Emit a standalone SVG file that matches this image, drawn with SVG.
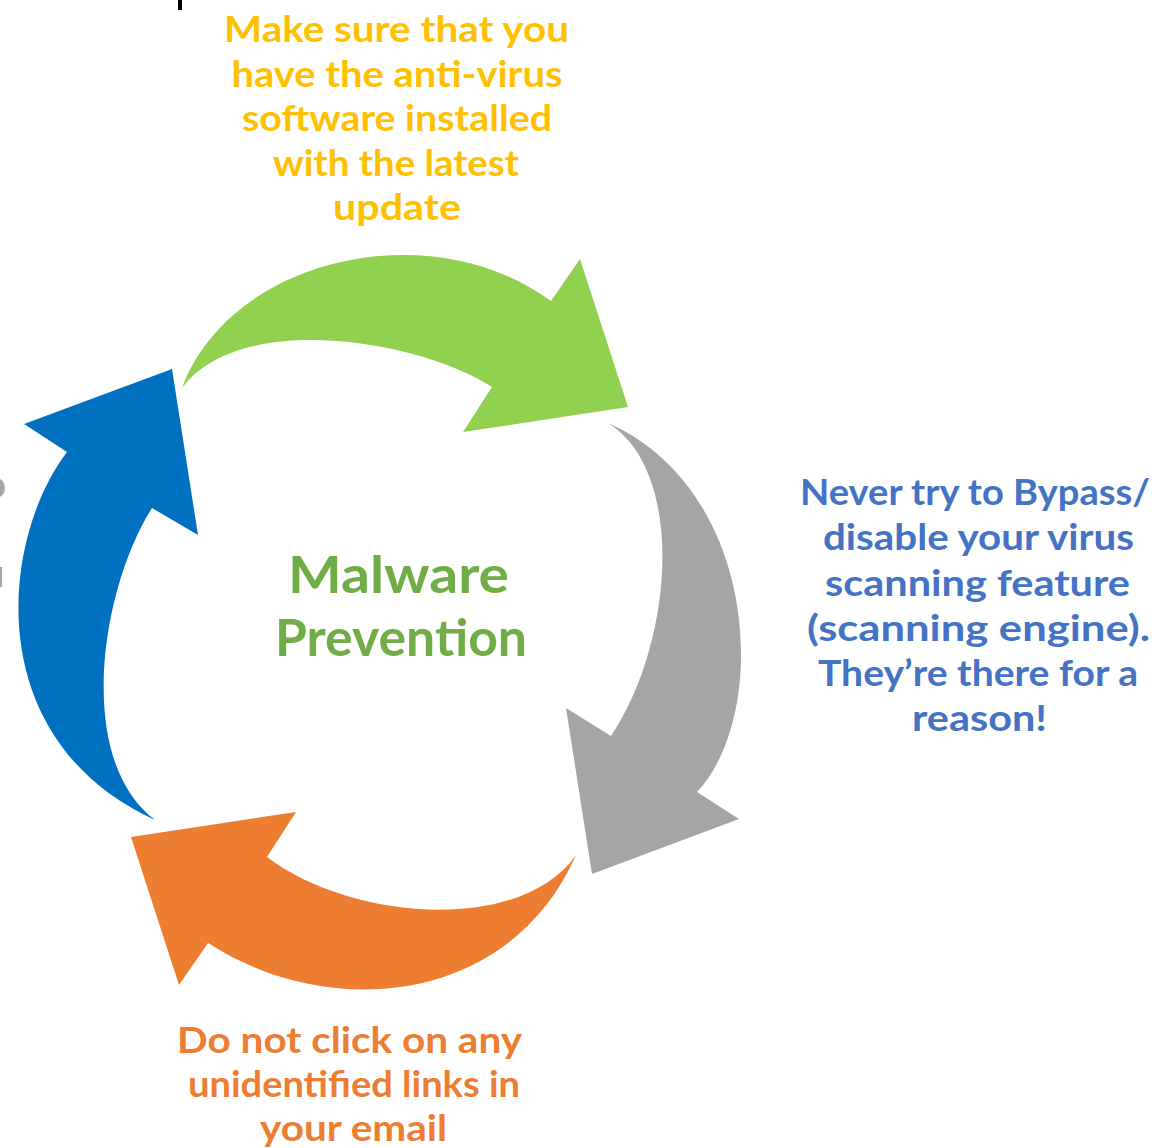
<svg xmlns="http://www.w3.org/2000/svg" width="1163" height="1148" viewBox="0 0 1163 1148">
  <style>
    .lbl { font-family: Lato, "Liberation Sans", sans-serif; font-weight: bold; font-size: 37px; text-anchor: middle; }
    .title { font-family: Lato, "Liberation Sans", sans-serif; font-weight: bold; font-size: 51px; text-anchor: middle; fill: #70AD47; }
    .yellow { fill: #FFC000; }
    .blue { fill: #4472C4; }
    .orange { fill: #ED7D31; }
  </style>
  <rect width="1163" height="1148" fill="#FFFFFF"/>

  <!-- cropped fragments at the edges -->
  <rect x="178" y="0" width="4" height="10" fill="#000000"/>
  <ellipse cx="-4" cy="488" rx="9" ry="10" fill="#A5A5A5"/>
  <rect x="0" y="567" width="2" height="20" fill="#A5A5A5"/>

  <!-- curved cycle arrows -->
  <g id="connectors">
    <path id="arrow-green" fill="#92D050" d="M182,388 C230,258 430,212 551,301 L580,259 L628,407 L463,432 L492,387 C420,340 240,310 182,388 Z"/>
    <path id="arrow-gray" fill="#A5A5A5" d="M608,423 C760,490 770,715 697,792 L739,819 L592,874 L566,708 L611,736 C675,640 685,470 608,423 Z"/>
    <path id="arrow-orange" fill="#ED7D31" d="M576,855 C510,1005 330,1022 208,943 L179,985 L131,837 L296,812 L267,857 C350,920 520,935 576,855 Z"/>
    <path id="arrow-blue" fill="#0070C0" d="M155,820 C-20,740 0,540 67,452 L24,424 L172,369 L198,535 L152,508 C100,590 75,760 155,820 Z"/>
  </g>

  <g id="node-center">
    <text class="title" x="398.5" y="593" textLength="221" lengthAdjust="spacingAndGlyphs">Malware</text>
    <text class="title" x="401" y="656" textLength="252" lengthAdjust="spacingAndGlyphs">Prevention</text>
  </g>

  <g id="node-update" class="lbl yellow">
    <text x="396.5" y="42" textLength="345" lengthAdjust="spacingAndGlyphs">Make sure that you</text>
    <text x="397" y="86.5" textLength="331" lengthAdjust="spacingAndGlyphs">have the anti-virus</text>
    <text x="397" y="131" textLength="310" lengthAdjust="spacingAndGlyphs">software installed</text>
    <text x="396" y="175.5" textLength="246" lengthAdjust="spacingAndGlyphs">with the latest</text>
    <text x="397" y="220" textLength="128" lengthAdjust="spacingAndGlyphs">update</text>
  </g>

  <g id="node-bypass" class="lbl blue">
    <text x="975" y="505" textLength="350" lengthAdjust="spacingAndGlyphs">Never try to Bypass/</text>
    <text x="978.5" y="550" textLength="311" lengthAdjust="spacingAndGlyphs">disable your virus</text>
    <text x="977.5" y="596" textLength="305" lengthAdjust="spacingAndGlyphs">scanning feature</text>
    <text x="978.5" y="641" textLength="343" lengthAdjust="spacingAndGlyphs">(scanning engine).</text>
    <text x="978" y="686" textLength="320" lengthAdjust="spacingAndGlyphs">They’re there for a</text>
    <text x="979.5" y="731" textLength="135" lengthAdjust="spacingAndGlyphs">reason!</text>
  </g>

  <g id="node-links" class="lbl orange">
    <text x="349.5" y="1053" textLength="345" lengthAdjust="spacingAndGlyphs">Do not click on any</text>
    <text x="354" y="1097" textLength="332" lengthAdjust="spacingAndGlyphs">unidentified links in</text>
    <text x="353.5" y="1141" textLength="187" lengthAdjust="spacingAndGlyphs">your email</text>
  </g>
</svg>
